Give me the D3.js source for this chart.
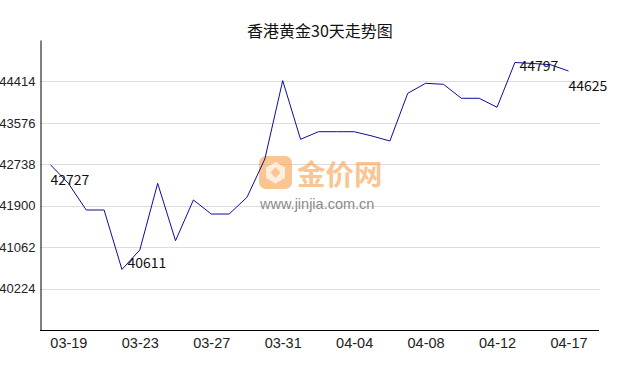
<!DOCTYPE html>
<html>
<head>
<meta charset="utf-8">
<script src="https://cdn.jsdelivr.net/npm/d3@7"></script>
<style>
  html, body { margin: 0; padding: 0; background: #fff; }
  svg { display: block; font-family: "Noto Sans CJK SC", "Noto Sans", sans-serif; }
  .grid line { stroke: #dcdcdc; stroke-width: 1; }
  .y-axis text, .x-axis text { fill: #222; }
</style>
</head>
<body>
<svg id="chart" width="638" height="370"></svg>
<script>
// ── Data ───────────────────────────────────────────────────────
const dates = [
  '03-18', '03-19', '03-20', '03-21', '03-22', '03-23', '03-24', '03-25', '03-26', '03-27',
  '03-28', '03-29', '03-30', '03-31', '04-01', '04-02', '04-03', '04-04', '04-05', '04-06',
  '04-07', '04-08', '04-09', '04-10', '04-11', '04-12', '04-14', '04-15', '04-16', '04-17'
];
const prices = [
  42727, 42353, 41813, 41813, 40611, 41004, 42353, 41192, 42016, 41732,
  41732, 42070, 42845, 44430, 43243, 43397, 43397, 43397, 43310, 43209,
  44174, 44376, 44356, 44073, 44073, 43891, 44797, 44777, 44752, 44625
];
const yTicks = [40224, 41062, 41900, 42738, 43576, 44414];
const yDomain = [39386, 45252];
const xTickLabels = ['03-19', '03-23', '03-27', '03-31', '04-04', '04-08', '04-12', '04-17'];
const title = '香港黄金30天走势图';

// ── Layout ─────────────────────────────────────────────────────
const M = { left: 40, right: 600, top: 40, bottom: 330 };
const svg = d3.select('#chart');

const x = d3.scalePoint().domain(dates).range([50.5, 568.5]);
const y = d3.scaleLinear().domain(yDomain).range([M.bottom, M.top]);

// title
svg.append('text')
  .attr('x', 320).attr('y', 36.5)
  .attr('text-anchor', 'middle')
  .attr('font-size', 16).attr('fill', '#111')
  .text(title);

// ── Gridlines ──────────────────────────────────────────────────
svg.append('g').attr('class', 'grid')
  .selectAll('line').data(yTicks).join('line')
  .attr('x1', M.left).attr('x2', M.right)
  .attr('y1', d => Math.round(y(d)) + 0.5).attr('y2', d => Math.round(y(d)) + 0.5);

// ── Watermark ──────────────────────────────────────────────────
const wm = svg.append('g').attr('opacity', 0.6);
wm.append('rect')
  .attr('x', 259).attr('y', 156).attr('width', 33).attr('height', 33).attr('rx', 7)
  .attr('fill', '#f7a04a');
wm.append('path')
  .attr('d', 'M275.5,162 L285,167.5 L285,178 L275.5,183.5 L266,178 L266,167.5 Z M275.5,167 L270.5,172.5 L275.5,178 L280.5,172.5 Z')
  .attr('fill', '#fde3c8').attr('fill-rule', 'evenodd');
wm.append('text')
  .attr('x', 297).attr('y', 185)
  .attr('font-size', 28.5).attr('font-weight', 'bold').attr('fill', '#f7a04a')
  .text('金价网');
svg.append('text')
  .attr('x', 260).attr('y', 209)
  .attr('font-family', '"Liberation Sans", Arial, sans-serif')
  .attr('font-size', 14.5).attr('fill', '#8a8a8a')
  .text('www.jinjia.com.cn');

// ── Axes ───────────────────────────────────────────────────────
const yAxis = svg.append('g').attr('class', 'y-axis')
  .attr('transform', `translate(${M.left + 0.5},0)`)
  .call(d3.axisLeft(y).tickValues(yTicks).tickSize(0).tickSizeOuter(0).tickPadding(5).tickFormat(d3.format('d')));
yAxis.select('.domain').attr('stroke', '#000');
yAxis.selectAll('text').attr('font-size', 13).attr('font-family', null);

svg.append('line')
  .attr('x1', M.left).attr('x2', M.right - 1)
  .attr('y1', M.bottom + 0.5).attr('y2', M.bottom + 0.5)
  .attr('stroke', '#000');

const xAxis = svg.append('g').attr('class', 'x-axis')
  .attr('transform', `translate(0,${M.bottom})`)
  .call(d3.axisBottom(x).tickValues(xTickLabels).tickSize(0).tickPadding(8));
xAxis.select('.domain').remove();
xAxis.selectAll('text').attr('font-size', 14.5).attr('font-family', null);

// ── Line ───────────────────────────────────────────────────────
const line = d3.line().x((d, i) => x(dates[i])).y(d => y(d));
svg.append('path')
  .datum(prices)
  .attr('d', line)
  .attr('fill', 'none')
  .attr('stroke', '#0c0ca0')
  .attr('stroke-width', 1);

// ── Point labels: first, min, max, last ────────────────────────
const iMin = d3.minIndex(prices), iMax = d3.maxIndex(prices), iLast = prices.length - 1;
const marks = [
  { i: 0, dx: 0, dy: 20 },
  { i: iMin, dx: 5.5, dy: -1 },
  { i: iMax, dx: 4.5, dy: 9 },
  { i: iLast, dx: 0, dy: 20 }
];
svg.append('g').selectAll('text').data(marks).join('text')
  .attr('x', d => x(dates[d.i]) + d.dx)
  .attr('y', d => y(prices[d.i]) + d.dy)
  .attr('font-size', 14).attr('fill', '#111')
  .text(d => prices[d.i]);
</script>
</body>
</html>
